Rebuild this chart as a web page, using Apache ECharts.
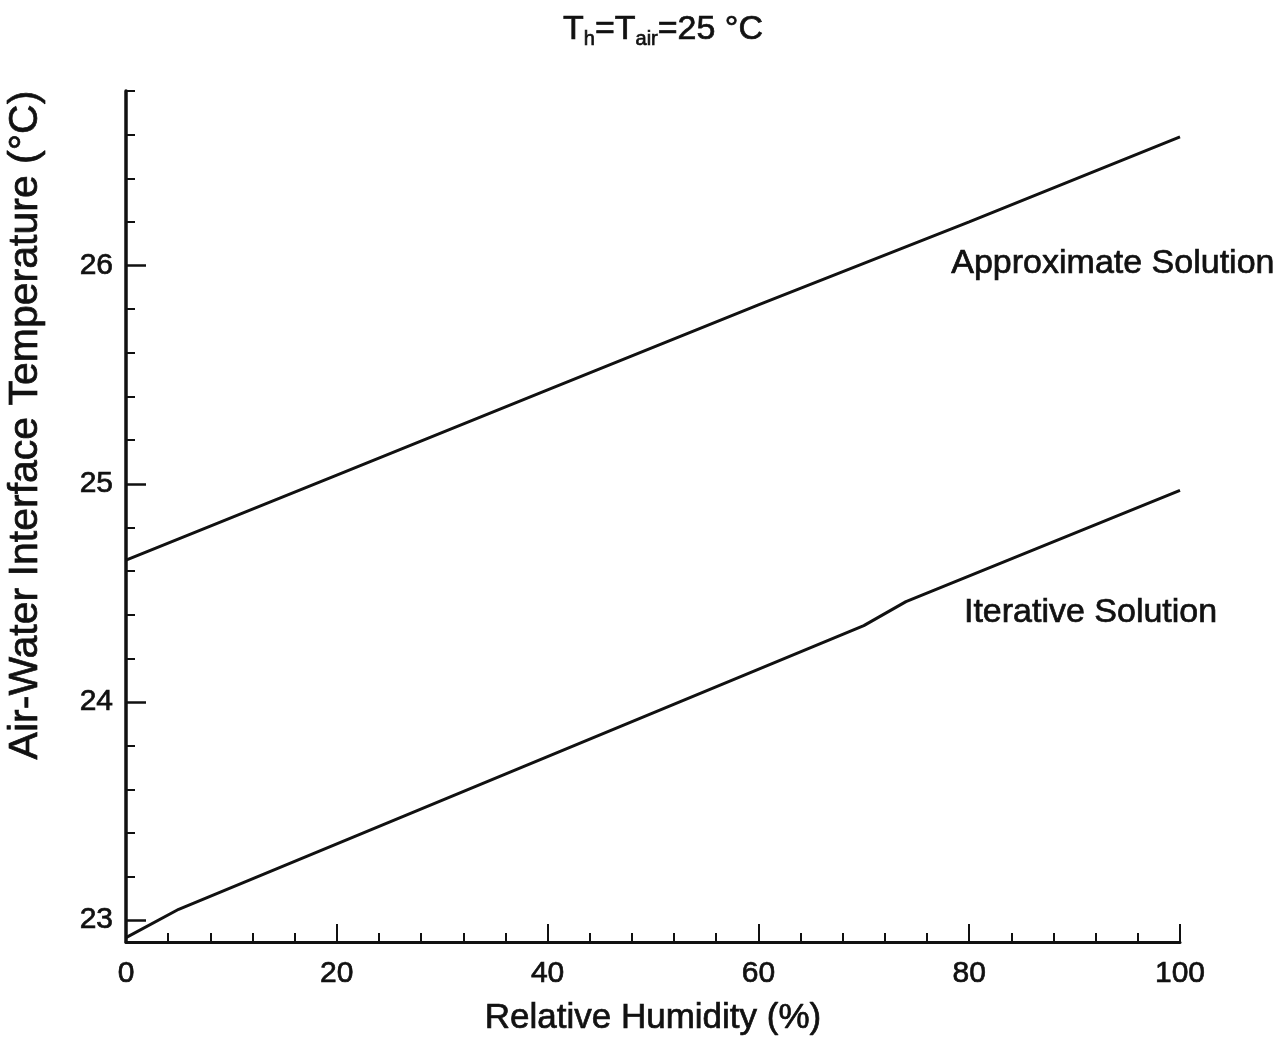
<!DOCTYPE html>
<html>
<head>
<meta charset="utf-8">
<script src="https://cdn.jsdelivr.net/npm/echarts@6/dist/echarts.min.js"></script>
<style>
  html, body { margin: 0; padding: 0; background: #fff; }
  #chart { width: 1284px; height: 1045px; }
</style>
</head>
<body>
<div id="chart"></div>
<script>
// Relative humidity (%) vs air-water interface temperature (°C)
const approxX = [0, 20, 40, 60, 80, 100];
const approxY = [24.65, 25.04, 25.43, 25.82, 26.20, 26.59];

const iterX = [0, 5, 70, 74, 100];
const iterY = [22.92, 23.05, 24.35, 24.46, 24.97];

const yMajorTicks = [23, 24, 25, 26];
const yMinorTicks = [23.2, 23.4, 23.6, 23.8, 24.2, 24.4, 24.6, 24.8,
                     25.2, 25.4, 25.6, 25.8, 26.2, 26.4, 26.6, 26.8];

const seriesNames = ['Approximate Solution', 'Iterative Solution'];
const yAxisTitle = 'Air-Water Interface Temperature (°C)';
// label anchors in data units (humidity, temperature)
const labelAnchors = [[78.3, 26.01], [79.5, 24.41]];

const FONT = '"Liberation Sans", Arial, Helvetica, sans-serif';
const INK = '#111';
// a thin outline in the ink colour gives the heavier strokes of the printed text
const heavy = { textBorderColor: INK, textBorderWidth: 0.7 };

const zip = (xs, ys) => xs.map((x, i) => [x, ys[i]]);

const chart = echarts.init(document.getElementById('chart'), null, { renderer: 'canvas' });

const yBase = {
  type: 'value', min: 22.9, max: 26.8, position: 'left', offset: 0,
  splitLine: { show: false }
};

const annotation = (name, anchor) => ({
  symbol: 'circle', symbolSize: 0,
  data: [{ coord: anchor }],
  label: Object.assign({ show: true, position: 'right', distance: 0, formatter: name,
           fontFamily: FONT, fontSize: 34, color: INK }, heavy)
});

chart.setOption({
  backgroundColor: '#fff',
  animation: false,
  title: {
    text: 'T{sub|h}=T{sub|air}=25 °C',
    left: 558, top: 6,
    textStyle: Object.assign({
      fontFamily: FONT, fontSize: 34, color: INK, fontWeight: 'normal',
      rich: {
        sub: Object.assign({ fontFamily: FONT, fontSize: 20, color: INK, verticalAlign: 'bottom', padding: [18, 0, 0, 0] }, heavy)
      }
    }, heavy)
  },
  grid: { left: 126, right: 104, top: 91, bottom: 103, containLabel: false, outerBoundsMode: 'none' },
  xAxis: {
    type: 'value', min: 0, max: 100, interval: 20,
    name: 'Relative Humidity (%)', nameLocation: 'middle', nameGap: 59,
    nameTextStyle: Object.assign({ fontFamily: FONT, fontSize: 35, color: INK }, heavy),
    axisLine: { show: true, onZero: false, lineStyle: { color: INK, width: 3 } },
    axisTick: { show: true, inside: true, length: 18, lineStyle: { color: INK, width: 2 } },
    minorTick: { show: true, splitNumber: 5, length: 9, lineStyle: { color: INK, width: 2 } },
    axisLabel: Object.assign({ fontFamily: FONT, fontSize: 30, color: INK, margin: 17 }, heavy),
    splitLine: { show: false }, minorSplitLine: { show: false }
  },
  yAxis: [
    Object.assign({}, yBase, {
      axisLine: { show: true, onZero: false, lineStyle: { color: INK, width: 3.5 } },
      axisTick: { show: true, inside: true, length: 20, customValues: yMajorTicks, lineStyle: { color: INK, width: 2.5 } },
      axisLabel: Object.assign({ fontFamily: FONT, fontSize: 30, color: INK, margin: 13, customValues: yMajorTicks }, heavy)
    }),
    Object.assign({}, yBase, {
      axisLine: { show: false },
      axisTick: { show: true, inside: true, length: 9, customValues: yMinorTicks, lineStyle: { color: INK, width: 2 } },
      axisLabel: { show: false, customValues: yMinorTicks }
    })
  ],
  graphic: [{
    type: 'text', x: 26, y: 425, rotation: Math.PI / 2,
    style: {
      text: yAxisTitle, font: '41px ' + FONT, fill: INK,
      textAlign: 'center', textVerticalAlign: 'middle',
      stroke: INK, lineWidth: 0.7
    }
  }],
  series: [
    {
      name: seriesNames[0], type: 'line', yAxisIndex: 0,
      data: zip(approxX, approxY), showSymbol: false, symbol: 'none',
      lineStyle: { color: INK, width: 3 },
      markPoint: annotation(seriesNames[0], labelAnchors[0])
    },
    {
      name: seriesNames[1], type: 'line', yAxisIndex: 0,
      data: zip(iterX, iterY), showSymbol: false, symbol: 'none',
      lineStyle: { color: INK, width: 3 },
      markPoint: annotation(seriesNames[1], labelAnchors[1])
    }
  ]
});
</script>
</body>
</html>
